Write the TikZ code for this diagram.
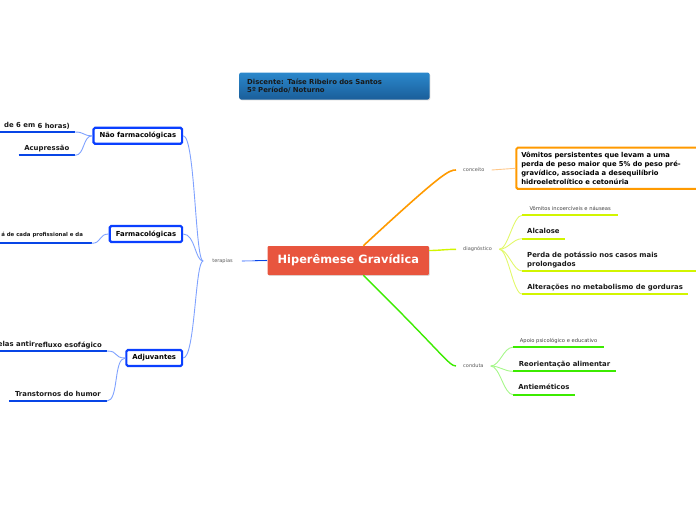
\documentclass[tikz,border=0pt]{standalone}
\usepackage{fontspec}
\setmainfont{DejaVu Sans}
\usetikzlibrary{shadows}
\definecolor{rootred}{HTML}{E8553E}
\definecolor{hdrtop}{HTML}{2B88CC}
\definecolor{hdrbot}{HTML}{1A5E9A}
\definecolor{boxblue}{HTML}{0A3FFF}
\definecolor{ulblue}{HTML}{0845E6}
\definecolor{linkblue}{HTML}{7FA2FF}
\definecolor{concorange}{HTML}{FF9A00}
\definecolor{lightorange}{HTML}{FFC788}
\definecolor{diagyellow}{HTML}{D2F500}
\definecolor{lightyellow}{HTML}{E2F86A}
\definecolor{condgreen}{HTML}{3CEB00}
\definecolor{lightgreen}{HTML}{A6F78A}
\tikzset{
  root/.style={fill=rootred, text=white, font=\fontsize{11.4}{13}\selectfont\bfseries, minimum width=161.3pt, minimum height=29pt, inner sep=0pt, rounded corners=1pt, drop shadow={opacity=0.25, shadow xshift=0.8pt, shadow yshift=-0.8pt}},
  header/.style={top color=hdrtop, bottom color=hdrbot, rounded corners=2pt, text width=174.3pt, inner xsep=8pt, inner ysep=0pt, minimum height=27pt, align=left, font=\fontsize{6.9}{7.8}\selectfont\bfseries, text=black!90, drop shadow={opacity=0.3, shadow xshift=0.8pt, shadow yshift=-0.8pt}},
  topic/.style={font=\fontsize{5}{6}\selectfont, text=black!65, inner xsep=7pt, inner ysep=1pt},
  bluebox/.style={draw=boxblue, line width=2.2pt, fill=white, rounded corners=1.5pt, font=\fontsize{6.9}{8}\selectfont\bfseries, inner xsep=6pt, inner ysep=0pt, minimum height=16pt},
  orangebox/.style={draw=concorange, line width=2pt, fill=white, rounded corners=1.5pt, font=\fontsize{6.8}{8.7}\selectfont\bfseries, text width=176pt, align=left, inner xsep=5pt, inner ysep=4pt, minimum height=41.3pt},
  leaf/.style={font=\fontsize{6.9}{8.6}\selectfont\bfseries, text=black!90, inner xsep=5pt, inner ysep=4.6pt, text depth=0pt},
  smallleaf/.style={leaf, font=\fontsize{5.2}{6}\selectfont, text=black!75},
  blueul/.style={draw=ulblue, line width=2.3pt},
  yellowul/.style={draw=diagyellow, line width=2pt},
  greenul/.style={draw=condgreen, line width=2pt},
  bluelink/.style={draw=linkblue, line width=0.9pt},
  yellowlink/.style={draw=lightyellow, line width=0.9pt},
  greenlink/.style={draw=lightgreen, line width=0.9pt},
  orangelink/.style={draw=lightorange, line width=0.9pt}
}
\begin{document}
\begin{tikzpicture}[x=1pt,y=-1pt]
  \useasboundingbox (0,0) rectangle (696,520);
  \node[header, anchor=north west] (hdr) at (239,72.3) {Discente: Taíse Ribeiro dos Santos\\5º Período/ Noturno};
  \node[root] (root) at (348.3,260.5) {Hiperêmese Gravídica};

  % ramos da direita
  \node[topic, anchor=west] (conc) at (456,170) {conceito};
  \node[topic, anchor=west] (diag) at (456,249.3) {diagnóstico};
  \node[topic, anchor=west] (cond) at (456,366) {conduta};
  \draw[draw=concorange, line width=1.6pt] ([xshift=15pt]root.north) .. controls +(80,-74) and +(-7,0) .. (conc.west);
  \draw[draw=diagyellow, line width=1.4pt] ([yshift=10pt]root.east) .. controls +(10,0) and +(-10,0) .. (diag.west);
  \draw[draw=condgreen, line width=1.4pt] ([xshift=15pt]root.south) .. controls +(80,79) and +(-7,0) .. (cond.west);

  \node[orangebox, anchor=west] (cbox) at (515.3,168.3) {Vômitos persistentes que levam a uma\\perda de peso maior que 5\% do peso pré-\\gravídico, associada a desequilíbrio\\hidroeletrolítico e cetonúria};
  \draw[orangelink] (conc.east) -- (cbox.west);

  \node[smallleaf, anchor=south west, minimum width=96pt] (d1) at (522,215.3) {Vômitos incoercíveis e náuseas};
  \node[leaf, anchor=south west, minimum width=42.3pt] (d2) at (522,238.7) {Alcalose};
  \node[leaf, anchor=south west, text width=166pt, align=left, text depth=8.6pt] (d3) at (522,271) {Perda de potássio nos casos mais\\prolongados};
  \node[leaf, anchor=south west, minimum width=166pt] (d4) at (522,294) {Alterações no metabolismo de gorduras};
  \foreach \n in {d1,d2,d3,d4} {
    \draw[yellowul] (\n.south west) -- (\n.south east);
    \draw[yellowlink] (diag.east) .. controls +(9,0) and +(-9,0) .. (\n.south west);
  }

  \node[smallleaf, anchor=south west, minimum width=91.3pt] (c1) at (512.7,347.3) {Apoio psicológico e educativo};
  \node[leaf, anchor=south west, minimum width=102.7pt] (c2) at (513,371.3) {Reorientação alimentar};
  \node[leaf, anchor=south west, minimum width=61.3pt] (c3) at (513,394.7) {Antieméticos};
  \foreach \n in {c1,c2,c3} {
    \draw[greenul] (\n.south west) -- (\n.south east);
    \draw[greenlink] (cond.east) .. controls +(9,0) and +(-9,0) .. (\n.south west);
  }

  % ramo da esquerda
  \node[topic, inner xsep=9pt] (ter) at (222.5,261) {terapias};
  \draw[draw=linkblue, line width=1.1pt] (ter.east) -- (root.west);
  \draw[draw=ulblue, line width=1.3pt] ([xshift=-12pt]root.west) -- (root.west);

  \node[bluebox, anchor=east] (naofarm) at (183.2,135.8) {Não farmacológicas};
  \node[bluebox, anchor=east] (farm) at (183.2,234) {Farmacológicas};
  \node[bluebox, anchor=east] (adj) at (183.2,358) {Adjuvantes};
  \foreach \n in {naofarm,farm,adj}
    \draw[bluelink] (ter.west) .. controls +(-8,0) and +(12,0) .. (\n.east);

  \node[leaf, anchor=south east, minimum width=75pt] (n1) at (75,132) {de 6 em \raisebox{-0.8pt}{6 horas)}};
  \node[leaf, anchor=south east, minimum width=56pt] (n2) at (75,155.3) {Acupressão};
  \node[leaf, anchor=south east, inner xsep=8.5pt, inner ysep=7pt, font=\fontsize{5.4}{6.5}\selectfont\bfseries] (f1) at (91.7,243.3) {á de cada profissional e da};
  \node[leaf, anchor=south east] (a1) at (107,351) {elas antir\raisebox{-1pt}{refluxo esofágico}};
  \node[leaf, anchor=south east, minimum width=97.7pt] (a2) at (107,401) {Transtornos do humor};
  \foreach \n in {n1,n2,f1,a1,a2}
    \draw[blueul] (\n.south west) -- (\n.south east);
  \draw[bluelink] (naofarm.west) .. controls +(-10,0) and +(10,0) .. (n1.south east);
  \draw[bluelink] (naofarm.west) .. controls +(-10,0) and +(10,0) .. (n2.south east);
  \draw[bluelink] (farm.west) .. controls +(-10,0) and +(10,0) .. (f1.south east);
  \draw[bluelink] (adj.west) .. controls +(-12,0) and +(12,0) .. (a1.south east);
  \draw[bluelink] (adj.west) .. controls +(-12,0) and +(12,0) .. (a2.south east);
\end{tikzpicture}
\end{document}
